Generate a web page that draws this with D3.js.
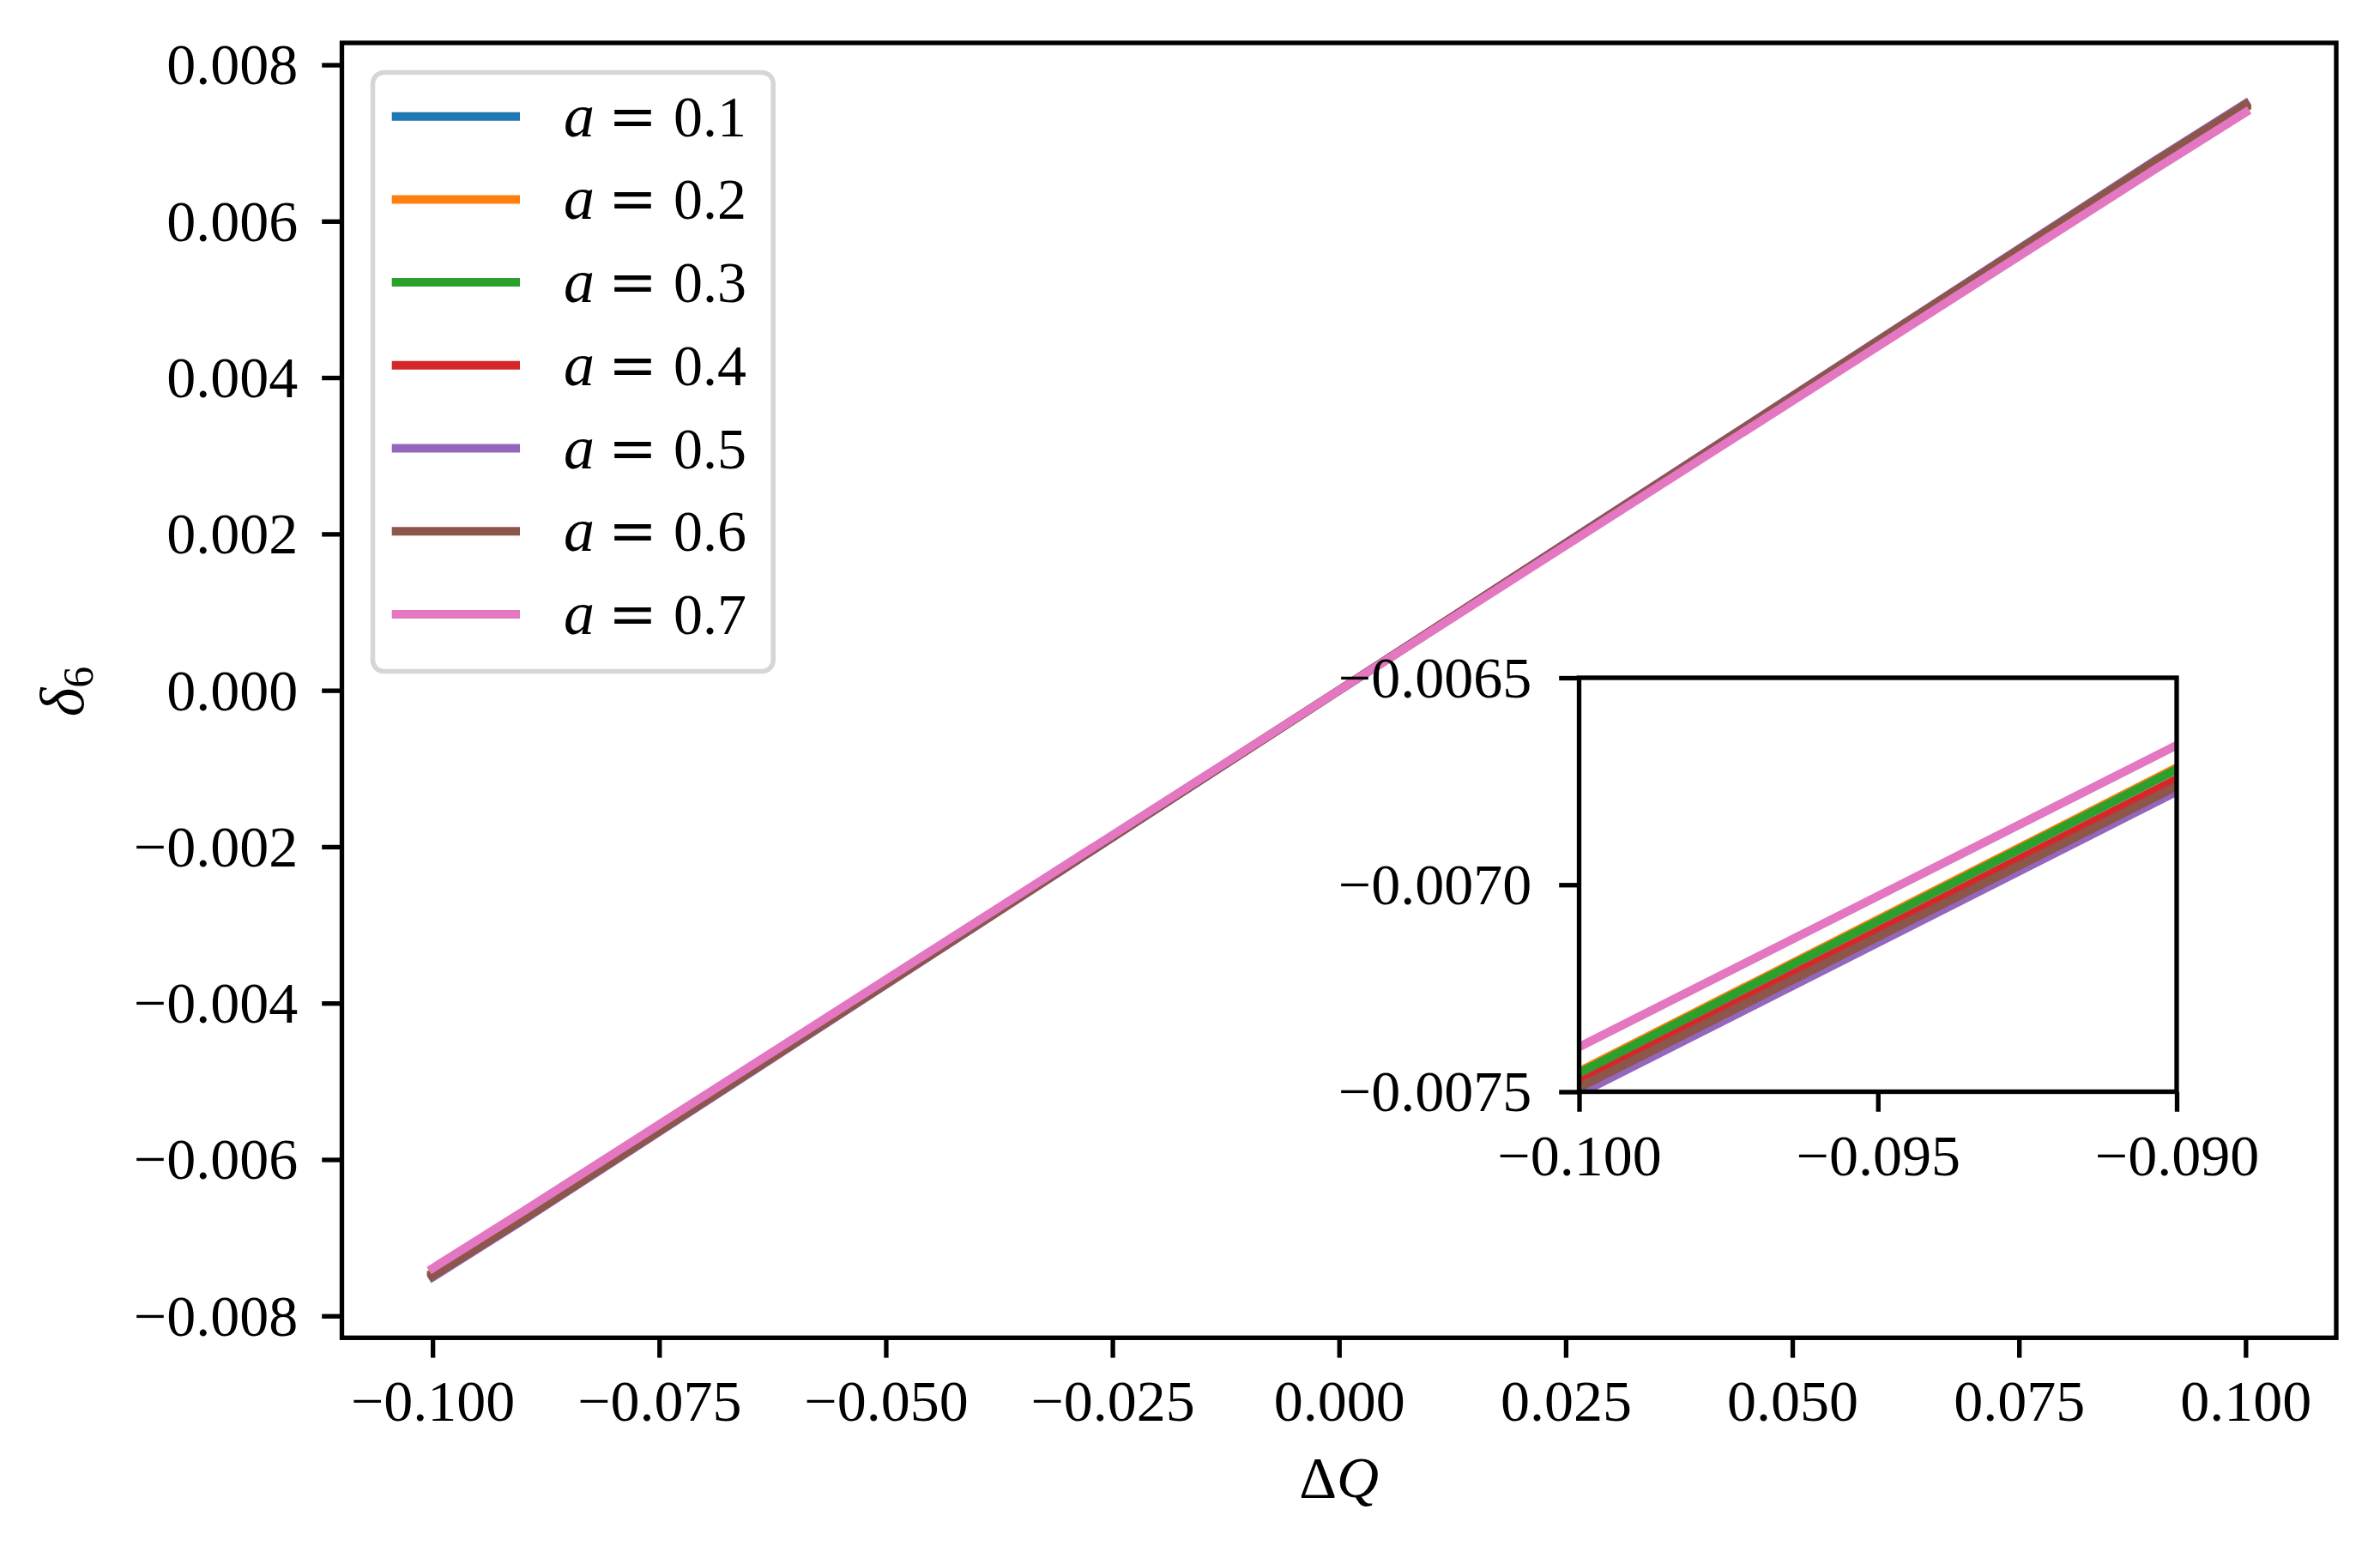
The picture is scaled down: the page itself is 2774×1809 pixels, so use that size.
<!DOCTYPE html>
<html>
<head>
<meta charset="utf-8">
<script src="https://cdn.jsdelivr.net/npm/d3@7"></script>
<style>
  body { margin: 0; background: #fff; }
  text { font-family: 'Liberation Serif', serif; fill: #000; }
</style>
</head>
<body>
<div id="chart"></div>
<script>
// data (delta_6 vs Delta Q, one line per a)
let xValues = [-0.1, -0.09, 0, 0.09, 0.1]
let a01 = [-0.007455, -0.006721, 0, 0.006721, 0.007455]
let a02 = [-0.007451, -0.006717, 0, 0.006717, 0.007451]
let a03 = [-0.007455, -0.006721, 0, 0.006721, 0.007455]
let a04 = [-0.007478, -0.006745, 0, 0.006745, 0.007478]
let a05 = [-0.007505, -0.006775, 0, 0.006775, 0.007505]
let a06 = [-0.007490, -0.006762, 0, 0.006762, 0.007490]
let a07 = [-0.007392, -0.006663, 0, 0.006663, 0.007392]
let aLabels = ['0.1', '0.2', '0.3', '0.4', '0.5', '0.6', '0.7']
let colors = ['#1f77b4', '#ff7f0e', '#2ca02c', '#d62728', '#9467bd', '#8c564b', '#e377c2']

let xTicks = [-0.1, -0.075, -0.05, -0.025, 0, 0.025, 0.05, 0.075, 0.1]
let yTicks = [-0.008, -0.006, -0.004, -0.002, 0, 0.002, 0.004, 0.006, 0.008]
let insetXTicks = [-0.1, -0.095, -0.09]
let insetYTicks = [-0.0075, -0.007, -0.0065]

let series = [a01, a02, a03, a04, a05, a06, a07].map((ys, i) => ({
  label: aLabels[i],
  color: colors[i],
  points: xValues.map((x, j) => [x, ys[j]])
}))

let W = 2774, H = 1809
let fontSize = 68
let lw = 10
let spineW = 5.33
let tickLen = 23.3

let main = { left: 398.5, right: 2723, top: 50, bottom: 1559.3 }
let inset = { left: 1840.5, right: 2537, top: 790, bottom: 1272.5 }

let svg = d3.select('#chart').append('svg')
  .attr('width', W).attr('height', H)
  .style('display', 'block')

let defs = svg.append('defs')
;[['clip-main', main], ['clip-inset', inset]].forEach(([id, b]) => {
  defs.append('clipPath').attr('id', id)
    .append('rect')
    .attr('x', b.left).attr('y', b.top)
    .attr('width', b.right - b.left).attr('height', b.bottom - b.top)
})

// tick label with a wide math minus like the TeX one
function setLabel(sel, s) {
  sel.text(null)
  if (s[0] === '-') {
    sel.append('tspan').attr('font-family', 'DejaVu Serif').text('\u2212')
    sel.append('tspan').attr('dx', 3).text(s.slice(1))
  } else {
    sel.append('tspan').text(s)
  }
}

function drawAxes(box, xDomain, yDomain, xt, yt, xFmt, yFmt, clipId, xPad, yPad) {
  let x = d3.scaleLinear().domain(xDomain).range([box.left, box.right])
  let y = d3.scaleLinear().domain(yDomain).range([box.bottom, box.top])

  svg.append('rect')
    .attr('x', box.left).attr('y', box.top)
    .attr('width', box.right - box.left).attr('height', box.bottom - box.top)
    .attr('fill', '#fff')

  let line = d3.line().x(d => x(d[0])).y(d => y(d[1]))

  svg.append('g').attr('clip-path', 'url(#' + clipId + ')')
    .selectAll('path')
    .data(series)
    .enter()
    .append('path')
    .attr('d', d => line(d.points))
    .attr('fill', 'none')
    .attr('stroke', d => d.color)
    .attr('stroke-width', lw)
    .attr('stroke-linecap', 'square')
    .attr('stroke-linejoin', 'round')

  let gx = svg.append('g')
    .attr('transform', 'translate(0,' + box.bottom + ')')
    .call(d3.axisBottom(x).tickValues(xt).tickSize(tickLen).tickPadding(xPad))
  let gy = svg.append('g')
    .attr('transform', 'translate(' + box.left + ',0)')
    .call(d3.axisLeft(y).tickValues(yt).tickSize(tickLen).tickPadding(yPad))

  ;[[gx, xFmt], [gy, yFmt]].forEach(([g, f]) => {
    g.select('.domain').remove()
    g.selectAll('.tick line').attr('stroke', '#000').attr('stroke-width', spineW)
    g.selectAll('.tick text')
      .attr('font-family', 'Liberation Serif')
      .attr('font-size', fontSize)
      .attr('fill', '#000')
      .each(function(d) { setLabel(d3.select(this), d3.format(f)(d)) })
  })
  gy.selectAll('.tick text').attr('dy', '0.33em')

  svg.append('rect')
    .attr('x', box.left).attr('y', box.top)
    .attr('width', box.right - box.left).attr('height', box.bottom - box.top)
    .attr('fill', 'none')
    .attr('stroke', '#000')
    .attr('stroke-width', spineW)
    .attr('stroke-linecap', 'square')
}

// main axes
drawAxes(main, [-0.11, 0.11], [-0.00828, 0.00828], xTicks, yTicks, '.3f', '.3f', 'clip-main', 25, 28)

// axis labels
let xl = svg.append('text')
  .attr('x', (main.left + main.right) / 2)
  .attr('y', 1745)
  .attr('text-anchor', 'middle')
  .attr('font-size', fontSize)
xl.append('tspan').text('\u0394')
xl.append('tspan').attr('font-style', 'italic').text('Q')

let yl = svg.append('text')
  .attr('transform', 'translate(97,806) rotate(-90)')
  .attr('text-anchor', 'middle')
  .attr('font-size', fontSize + 4)
yl.append('tspan').attr('font-style', 'italic').text('\u03b4')
yl.append('tspan').attr('font-size', 50).attr('dy', 11).text('6')

// legend
let leg = svg.append('g')
leg.append('rect')
  .attr('x', 434.5).attr('y', 84.5)
  .attr('width', 466.7).attr('height', 698)
  .attr('rx', 13).attr('ry', 13)
  .attr('fill', '#fff')
  .attr('fill-opacity', 0.8)
  .attr('stroke', '#d6d6d6')
  .attr('stroke-width', 5.5)

let rows = leg.selectAll('.row')
  .data(series)
  .enter()
  .append('g')
  .attr('class', 'row')
  .attr('transform', (d, i) => 'translate(0,' + (135.7 + i * 96.7) + ')')

rows.append('line')
  .attr('x1', 456.7).attr('x2', 606)
  .attr('stroke', d => d.color)
  .attr('stroke-width', lw)

let lt = rows.append('text')
  .attr('y', 23)
  .attr('font-size', fontSize)
lt.append('tspan').attr('x', 657).attr('font-size', fontSize + 4).attr('font-style', 'italic').text('a')
lt.append('tspan').attr('x', 709).attr('font-family', 'DejaVu Serif').text('=')
lt.append('tspan').attr('x', 785).text(d => d.label)

// inset zoom on the lower-left end
drawAxes(inset, [-0.1, -0.09], [-0.0075, -0.0065], insetXTicks, insetYTicks, '.3f', '.4f', 'clip-inset', 26, 32)
</script>
</body>
</html>
